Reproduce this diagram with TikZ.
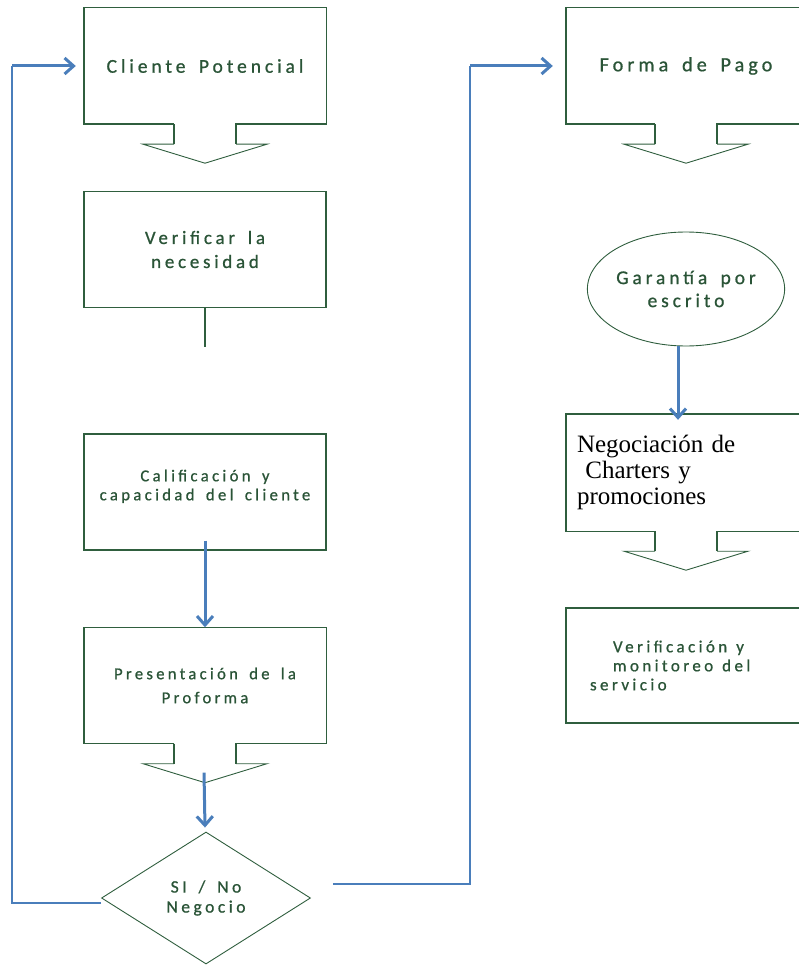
\documentclass[tikz,border=0pt]{standalone}
\usepackage{fontspec}
\newfontfamily\flowfont[LetterSpace=20,WordSpace=1.6,FakeBold=0.8]{Carlito}
\newfontfamily\charfont{Liberation Serif}
\usetikzlibrary{shapes.geometric,arrows.meta}

\definecolor{boxgreen}{RGB}{47,94,62}
\definecolor{txtgreen}{RGB}{42,84,55}
\definecolor{flowblue}{RGB}{74,126,187}

\tikzset{
  stepbox/.style={rectangle, minimum width=242pt, minimum height=116pt, inner sep=0pt,
    align=center, text=txtgreen},
  outline/.style={draw=boxgreen, line width=1.4pt},
  thinline/.style={draw=boxgreen, line width=0.9pt},
  flow/.style={draw=flowblue, line width=1.4pt},
  flowarrow/.style={draw=flowblue, line width=3pt, -{Straight Barb[length=9pt,width=16pt]}},
}

% box with the block arrow under it
\newcommand{\notchbox}[1]{%
  \draw[outline] ([xshift=-31pt]#1.south) -- (#1.south west) -- (#1.north west)
    -- (#1.north east) -- (#1.south east) -- ([xshift=31pt]#1.south) -- ++(0,20);
  \draw[outline] ([xshift=-31pt]#1.south) -- ++(0,20);
  \draw[thinline] ([xshift=31pt,yshift=-20pt]#1.south) -- ++(31,0) -- ([yshift=-39pt]#1.south)
    -- ([xshift=-62pt,yshift=-20pt]#1.south) -- ++(31,0);}

\begin{document}
\begin{tikzpicture}[x=1pt,y=-1pt]
  \useasboundingbox (0,0) rectangle (799,965);
  \clip (0,0) rectangle (799,965);
  % \draw[help lines,step=50] (0,0) grid (799,965);

  % left column
  \node (cli) at (205,66) [stepbox, font=\flowfont\fontsize{19.6}{24}\selectfont] {Cliente Potencial};
  \notchbox{cli}

  \node (nec) at (205,249.5) [stepbox, outline, font=\flowfont\fontsize{18.9}{24}\selectfont] {Verificar la\\necesidad};
  \coordinate (necend) at (205,347);
  \draw[outline] (nec.south) -- (necend);

  \node (cal) at (205,492) [stepbox, outline, font=\flowfont\fontsize{16.7}{19}\selectfont] {Calificación y\\capacidad del cliente\\[-5pt]};

  \node (pro) at (205,685.5) [stepbox, font=\flowfont\fontsize{16.6}{24}\selectfont] {Presentación de la\\Proforma};
  \notchbox{pro}

  \node (neg) at (206,898) [diamond, thinline, aspect=1.58, minimum width=209pt, minimum height=132pt,
    inner sep=0pt, align=center, text=txtgreen, font=\flowfont\fontsize{17.5}{20}\selectfont] {SI / No\\Negocio};

  \draw[flowarrow] ([yshift=10pt]cal.south) -- (pro.north);
  \draw[flowarrow] ([xshift=-1pt,yshift=-29pt]pro.south) -- ([xshift=-1pt,yshift=4pt]neg.north);

  % back to the start
  \coordinate (lbot) at (12,903);
  \coordinate (ltop) at (12,66);
  \draw[flow] ([yshift=-5pt]neg.west) -- (lbot) -- (ltop);
  \draw[flowarrow] (ltop) -- ([xshift=-8pt]cli.west);

  % right column
  \node (pago) at (686,66) [stepbox, minimum width=240pt, font=\flowfont\fontsize{20.2}{24}\selectfont] {Forma de Pago};
  \notchbox{pago}

  \coordinate (rbot) at (470,884);
  \coordinate (rtop) at (470,66);
  \draw[flow] ([xshift=22pt,yshift=14pt]neg.east) -- (rbot) -- (rtop);
  \draw[flowarrow] (rtop) -- ([xshift=-13pt]pago.west);

  \node (gar) at (686,289) [ellipse, thinline, minimum width=185pt, minimum height=114pt, inner sep=0pt,
    align=center, text=txtgreen, font=\flowfont\fontsize{19.5}{23}\selectfont] {Garantía por\\escrito};

  \node (char) at (686,472.5) [stepbox, minimum width=240pt, minimum height=117pt, text width=218pt,
    align=left, text=black, font=\charfont\fontsize{25}{26}\selectfont] {Negociación de\\\ Charters y\\promociones};
  \notchbox{char}
  \draw[flowarrow] ([xshift=-8pt]gar.south) -- ([xshift=-8pt,yshift=-6pt]char.north);

  \node (serv) at (686,665.5) [stepbox, outline, minimum width=240pt, minimum height=115pt, text width=192pt,
    align=left, font=\flowfont\fontsize{17}{19}\selectfont] {\hspace*{23pt}Verificación\hspace{9pt}y\\\hspace*{23pt}monitoreo\hspace{9pt}del\\servicio};
\end{tikzpicture}
\end{document}
